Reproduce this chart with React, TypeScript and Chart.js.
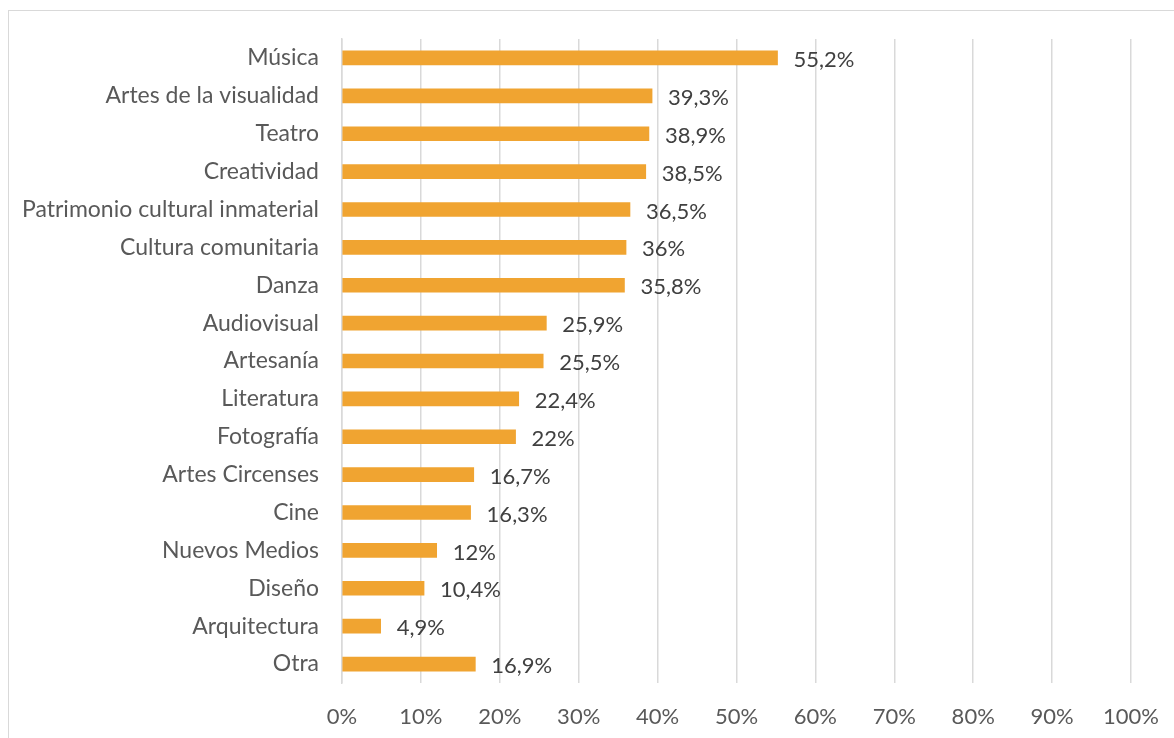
import React, { useEffect, useRef } from "react";
import { Chart, registerables } from "chart.js";

Chart.register(...registerables);

const categories = [
  "Música",
  "Artes de la visualidad",
  "Teatro",
  "Creatividad",
  "Patrimonio cultural inmaterial",
  "Cultura comunitaria",
  "Danza",
  "Audiovisual",
  "Artesanía",
  "Literatura",
  "Fotografía",
  "Artes Circenses",
  "Cine",
  "Nuevos Medios",
  "Diseño",
  "Arquitectura",
  "Otra",
];

const values = [55.2, 39.3, 38.9, 38.5, 36.5, 36, 35.8, 25.9, 25.5, 22.4, 22, 16.7, 16.3, 12, 10.4, 4.9, 16.9];

const xTicks = [0, 10, 20, 30, 40, 50, 60, 70, 80, 90, 100];

const FONT = "Lato";
const SIZE = 22;

const fmt = (v: number) => String(v).replace(".", ",") + "%";

const dataLabels = {
  id: "dataLabels",
  afterDatasetsDraw(chart: any) {
    const ctx = chart.ctx;
    const meta = chart.getDatasetMeta(0);
    ctx.save();
    ctx.font = `${SIZE}px ${FONT}`;
    ctx.fillStyle = "#404040";
    ctx.textAlign = "left";
    ctx.textBaseline = "middle";
    meta.data.forEach((el: any, i: number) => {
      ctx.fillText(fmt(values[i]), el.x + 16, el.y + 2);
    });
    ctx.restore();
  },
};

export default function App() {
  const ref = useRef<HTMLCanvasElement | null>(null);
  useEffect(() => {
    if (!ref.current) return;
    const chart = new Chart(ref.current, {
      type: "bar",
      data: {
        labels: categories,
        datasets: [
          {
            data: values,
            backgroundColor: "#F0A431",
            barThickness: 14,
          },
        ],
      },
      options: {
        indexAxis: "y",
        animation: false,
        responsive: false,
        maintainAspectRatio: false,
        layout: { padding: { top: 39, right: 43, left: 0, bottom: 0 } },
        plugins: { legend: { display: false }, tooltip: { enabled: false } },
        scales: {
          x: {
            min: 0,
            max: 100,
            afterBuildTicks: (s: any) => {
              s.ticks = xTicks.map((v) => ({ value: v }));
            },
            afterFit: (s: any) => {
              s.height = 738 - 683;
              s.paddingLeft = 0;
              s.paddingRight = 0;
            },
            grid: { color: "#D9D9D9", lineWidth: 1.5, drawTicks: false },
            border: { display: false },
            ticks: {
              padding: 21,
              color: "#595959",
              font: { family: FONT, size: SIZE },
              callback: (v: any) => v + "%",
            },
          },
          y: {
            afterFit: (s: any) => {
              s.width = 342;
              s.paddingTop = 0;
              s.paddingBottom = 0;
            },
            grid: { display: false, drawTicks: false },
            border: { display: true, color: "#D9D9D9", width: 1.5 },
            ticks: {
              padding: 23,
              color: "#595959",
              font: { family: FONT, size: 23 },
            },
          },
        },
      },
      plugins: [dataLabels],
    });
    return () => chart.destroy();
  }, []);
  return (
    <div style={{ position: "fixed", left: 0, top: 0, width: 1174, height: 738, background: "#fff" }}>
      <div
        style={{
          position: "absolute",
          left: 8,
          top: 10,
          width: 1166,
          height: 728,
          borderLeft: "1px solid #D9D9D9",
          borderTop: "1px solid #D9D9D9",
          boxSizing: "border-box",
        }}
      />
      <canvas ref={ref} width={1174} height={738} style={{ position: "absolute", left: 0, top: 0 }} />
    </div>
  );
}
